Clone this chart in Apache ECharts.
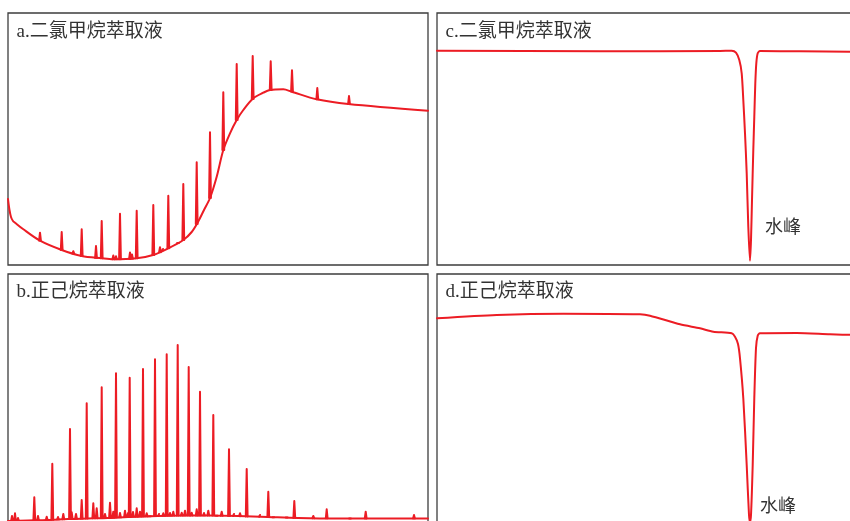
<!DOCTYPE html>
<html>
<head>
<meta charset="utf-8">
<script src="https://cdn.jsdelivr.net/npm/echarts@6/dist/echarts.min.js"></script>
<style>
html,body{margin:0;padding:0;background:#fff;}
#chart{width:850px;height:521px;}
</style>
</head>
<body>
<div id="chart"></div>
<script>
// ---------- Data (time in arbitrary units, signal in arbitrary units) ----------
// Panel a: dichloromethane extract – baseline drift + peaks
const aBaseX = [0, 1.5, 3, 5, 7, 15, 32, 53.7, 73.7, 93.7, 105, 128.7, 145, 160.3, 175.3, 183.7, 190, 196, 202, 208.7, 215.3, 222, 228.7, 235.3, 245.3, 255.3, 262, 275.3, 283.7, 308.7, 340.3, 420];
const aBaseY = [66, 55, 48, 44, 42.3, 36, 24.3, 15, 9, 6.7, 5.7, 6.7, 10, 16.7, 25, 33, 43, 55, 67, 88.3, 115, 131.7, 145, 155, 166.7, 172.3, 175, 175.7, 173.3, 165.7, 161, 154.3];
const aPeakX    = [32, 53.7, 65.3, 73.7, 88, 93.7, 105.3, 108, 112, 122, 124, 128.7, 145.3, 152, 155, 160.3, 170, 175.3, 188.7, 202, 215.3, 228.7, 244.7, 262.7, 284, 309.3, 341];
const aPeakTop  = [32.3, 33, 13.8, 35.7, 19, 44, 9.5, 8.8, 51.3, 12.5, 10.5, 54.3, 60, 17.7, 16, 69.3, 23, 81, 102.7, 132.7, 172.7, 201, 209, 203.7, 194.7, 177, 169];
const aPeakBase = [24.3, 15, 11.5, 9, 7, 6.7, 5.8, 5.8, 5.7, 6, 6.2, 6.7, 10, 12.8, 14, 16.7, 22, 25, 41, 67, 115, 145, 166, 175, 173.5, 165.7, 161];

// Panel b: n-hexane extract – flat baseline + n-alkane peaks
const bBaseX = [0, 20, 40, 60, 80, 100, 120, 150, 180, 200, 230, 260, 290, 330, 420];
const bBaseY = [5, 5.5, 6, 7, 7.5, 8, 9, 10, 10.5, 10.5, 10, 9, 8, 7.5, 7.5];
const bPeakX    = [4, 7, 10, 26.3, 30, 38.7, 44.3, 50, 55.3, 62, 63.7, 68, 73.7, 78.7, 85.3, 88.7, 93.7, 97, 102, 105.3, 108, 112, 117, 120, 121.7, 125, 128.7, 132, 135, 138.7, 142, 147, 151, 155.3, 158.7, 162, 165.3, 169.7, 173.7, 177, 180.7, 183.7, 188.7, 192, 196, 200.3, 205.3, 208.7, 213.7, 221, 226, 232, 238.7, 252, 260.3, 265.3, 278.7, 286.3, 305.3, 318.7, 342, 357.7, 406];
const bPeakTop  = [10, 12.7, 8, 28.7, 10, 9.3, 62.3, 9, 12, 97, 13.7, 12, 26, 122.7, 22.7, 17.7, 138.7, 12, 23.3, 14.3, 152.7, 13, 15.3, 13, 148.3, 14, 17.7, 14.3, 157, 12.7, 11, 166.7, 12, 12.7, 171.7, 13, 14.3, 181, 13.3, 15.3, 159, 13.3, 16.7, 134.3, 13, 15.3, 111, 11.7, 14.3, 76.7, 12, 12.7, 57, 11, 34.3, 10, 9.3, 25, 10, 16.7, 8.7, 14.3, 11];
const bPeakBase = [5, 5, 5.1, 5.4, 5.5, 6, 6.2, 6.5, 6.8, 7, 7, 7.2, 7.4, 7.5, 7.7, 7.8, 7.9, 8, 8, 8.2, 8.4, 8.6, 8.9, 9, 9, 9.2, 9.3, 9.4, 9.5, 9.6, 9.7, 9.9, 10, 10.2, 10.3, 10.4, 10.4, 10.5, 10.5, 10.5, 10.5, 10.5, 10.5, 10.5, 10.5, 10.5, 10.4, 10.3, 10.2, 10, 10, 9.9, 9.5, 9.3, 9, 8.8, 8.4, 8, 7.8, 7.7, 7.5, 7.5, 7.5];

// Panel c: dichloromethane extract – water peak (negative)
const cX = [0, 163, 283, 294.7, 299, 302.3, 304.7, 306.3, 308, 309.7, 311.3, 313, 314, 315, 316.3, 317.3, 318.3, 319.3, 320.7, 323, 363, 420];
const cY = [214.3, 213.7, 214, 214.3, 212.3, 205, 191.7, 165, 131.7, 91.7, 38.3, 4.3, 25, 65, 115, 148.3, 181.7, 201.7, 211.7, 214, 213.7, 213.3];

// Panel d: n-hexane extract – water peak (negative)
const dX = [0, 59.7, 126.3, 203, 213, 243, 263, 276.3, 294.7, 298, 301, 303, 306.3, 309.7, 312, 313, 314, 315.7, 317.3, 319, 320.7, 323, 359.7, 393, 420];
const dY = [207.7, 211, 212.3, 211.7, 210.3, 201.7, 197.7, 194.3, 192.7, 189.3, 182, 167.7, 127.7, 61, 11, 4, 11, 61, 128, 178, 190.3, 192.7, 193, 191.7, 191];

const titles = ['a.二氯甲烷萃取液', 'b.正己烷萃取液', 'c.二氯甲烷萃取液', 'd.正己烷萃取液'];
const waterLabel = '水峰';

// ---------- Build ----------
const RED = '#ec1c24';
const PEAK_HW = 0.9;
function zip(xs, ys) { return xs.map((x, i) => [x, ys[i]]); }
function peaks(xs, tops, bases) {
  const out = [];
  xs.forEach((x, i) => {
    out.push([x - PEAK_HW, bases[i]], [x, tops[i]], [x + PEAK_HW, bases[i]], [x, null]);
  });
  return out;
}

const grids = [
  {left: 8, top: 13, width: 420, height: 252},
  {left: 8, top: 274, width: 420, height: 252},
  {left: 437, top: 13, width: 420, height: 252},
  {left: 437, top: 274, width: 420, height: 252}
].map(g => Object.assign({show: true, borderColor: '#3d3d3d', borderWidth: 1.3, backgroundColor: '#fff',
  outerBoundsMode: 'none', containLabel: false}, g));

const xAxes = grids.map((g, i) => ({type: 'value', gridIndex: i, min: 0, max: 420, show: false}));
const yAxes = grids.map((g, i) => ({type: 'value', gridIndex: i, min: 0, max: 252, show: false}));

const lineBase = {type: 'line', symbol: 'none', showSymbol: false, silent: true, animation: false,
  lineStyle: {color: RED, width: 2, join: 'round', cap: 'round'}, connectNulls: false};

const series = [
  Object.assign({}, lineBase, {xAxisIndex: 0, yAxisIndex: 0, data: zip(aBaseX, aBaseY), smooth: 0.3}),
  Object.assign({}, lineBase, {xAxisIndex: 0, yAxisIndex: 0, data: peaks(aPeakX, aPeakTop, aPeakBase)}),
  Object.assign({}, lineBase, {xAxisIndex: 1, yAxisIndex: 1, data: zip(bBaseX, bBaseY), smooth: 0.3}),
  Object.assign({}, lineBase, {xAxisIndex: 1, yAxisIndex: 1, data: peaks(bPeakX, bPeakTop, bPeakBase)}),
  Object.assign({}, lineBase, {xAxisIndex: 2, yAxisIndex: 2, data: zip(cX, cY), smooth: 0.25}),
  Object.assign({}, lineBase, {xAxisIndex: 3, yAxisIndex: 3, data: zip(dX, dY), smooth: 0.25})
];

const FONT = "19px 'Liberation Serif', 'Noto Sans CJK SC', sans-serif";
const FONT2 = "18px 'Noto Sans CJK SC', sans-serif";
const TXT = '#333333';
const graphic = [
  {type: 'text', x: 16.5, y: 32, style: {text: titles[0], font: FONT, fill: TXT, verticalAlign: 'middle'}},
  {type: 'text', x: 16.5, y: 292.5, style: {text: titles[1], font: FONT, fill: TXT, verticalAlign: 'middle'}},
  {type: 'text', x: 445.5, y: 32, style: {text: titles[2], font: FONT, fill: TXT, verticalAlign: 'middle'}},
  {type: 'text', x: 445.5, y: 292.5, style: {text: titles[3], font: FONT, fill: TXT, verticalAlign: 'middle'}},
  {type: 'text', x: 765, y: 226.5, style: {text: waterLabel, font: FONT2, fill: TXT, verticalAlign: 'middle'}},
  {type: 'text', x: 760, y: 505.5, style: {text: waterLabel, font: FONT2, fill: TXT, verticalAlign: 'middle'}}
];

const chart = echarts.init(document.getElementById('chart'), null, {renderer: 'canvas'});
chart.setOption({
  animation: false,
  backgroundColor: '#fff',
  grid: grids,
  xAxis: xAxes,
  yAxis: yAxes,
  series: series,
  graphic: graphic
});
</script>
</body>
</html>
